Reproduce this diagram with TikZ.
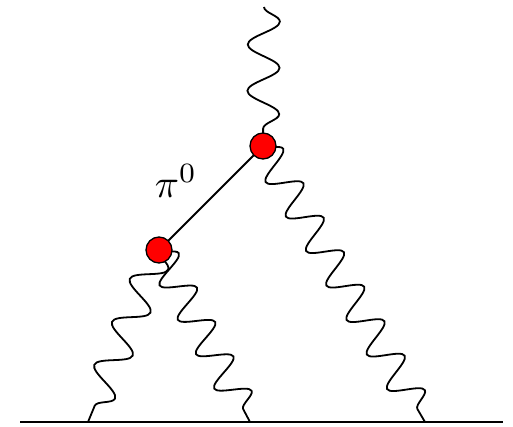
\documentclass[tikz,border=0pt]{standalone}
\usetikzlibrary{decorations.pathmorphing}

\tikzset{
  photon/.style={decorate, decoration={snake, amplitude=16pt, segment length=#1}},
  vertex/.style={circle, draw, fill=red, line width=1.3pt, minimum size=26pt, inner sep=0pt},
}

\begin{document}
\begin{tikzpicture}[x=1pt, y=-1pt, line width=1.8pt]
\useasboundingbox (0,0) rectangle (513,427);

% vertices and free ends
\coordinate (A) at (263,146);
\coordinate (B) at (159,250);
\coordinate (top) at (264,7);
\coordinate (e1) at (88,422);
\coordinate (e2) at (250,422);
\coordinate (e3) at (425,422);
\coordinate (l) at (20,422);
\coordinate (r) at (503,422);

% lepton line
\draw (l) -- (r);

% pion propagator
\draw (B) -- (A);
\node[scale=4] (pi) at (176,181) {$\pi^0$};

% photons
\draw[photon=46.3] (top) -- (A);
\draw[photon=40] (A) -- (e3);
\draw[photon=38.9] (B) -- (e2);
\draw[photon=46.5] (B) -- (e1);

% blobs
\node[vertex] (vA) at (A) {};
\node[vertex] (vB) at (B) {};
\end{tikzpicture}
\end{document}
